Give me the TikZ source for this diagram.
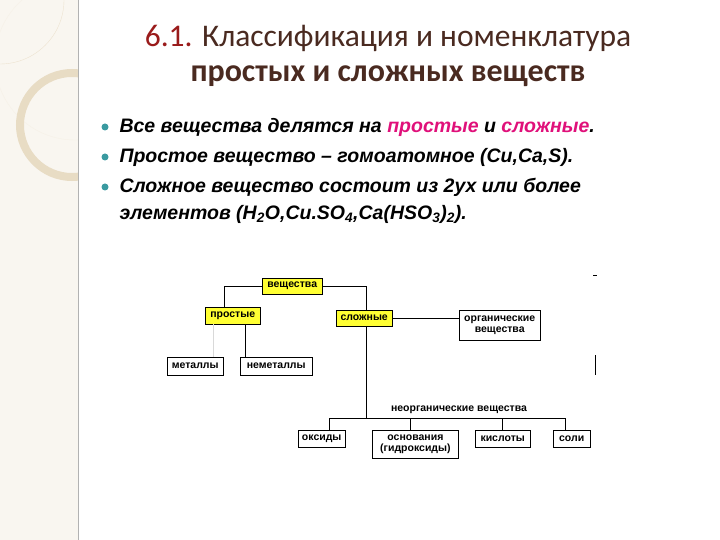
\documentclass[tikz,border=0pt]{standalone}
\usepackage{fontspec}
\setmainfont{Liberation Sans}
\newfontfamily\titlefont{Carlito}
\definecolor{beige}{HTML}{E8DCC4}
\definecolor{dred}{HTML}{9A1B1B}
\definecolor{dbrown}{HTML}{4A2A20}
\definecolor{pinkc}{HTML}{E0107A}
\definecolor{teal}{HTML}{3A9AA0}
\definecolor{yel}{HTML}{FFFF33}
\tikzset{x=1pt,y=-1pt,
 ybox/.style={draw=black,fill=yel,inner sep=1pt,font=\fontsize{10.5}{11.5}\selectfont\bfseries,anchor=north west},
 wbox/.style={draw=black,fill=white,inner sep=1pt,font=\fontsize{10.5}{11.5}\selectfont\bfseries,anchor=north west,align=center},
 conn/.style={black,line width=0.8pt},
 btxt/.style={anchor=west,font=\fontsize{19.5}{27}\selectfont\bfseries\itshape,align=left}}
\begin{document}
\begin{tikzpicture}
\useasboundingbox (0,0) rectangle (720,540);
\fill[white] (0,0) rectangle (720,540);
\fill[beige!25] (0,0) rectangle (78,540);
\begin{scope}
\clip (0,0) rectangle (78,540);
\draw[beige!80,line width=0.4pt] (0,0) circle[radius=64];
\draw[beige!40,line width=0.4pt] (75,60) circle[radius=80];
\draw[beige,line width=8pt] (72,125) circle[radius=52];
\end{scope}
\draw[gray!60,line width=0.6pt] (78,0) -- (78,540);
\node[font=\titlefont\fontsize{31.5}{34}\selectfont] (t1) at (388,38) {\textcolor{dred}{6.1.} \textcolor{dbrown}{Классификация и номенклатура}};
\node[font=\titlefont\fontsize{32}{34}\selectfont\bfseries,text=dbrown] (t2) at (388,76) {простых и сложных веществ};
\foreach \yy in {127,157,187}{\fill[teal] (105,\yy) circle[radius=3.5];}
\node[btxt] (b1) at (116,127) {Все вещества делятся на \textcolor{pinkc}{простые} и \textcolor{pinkc}{сложные}.};
\node[btxt] (b2) at (116,157) {Простое вещество – гомоатомное (Cu,Ca,S).};
\node[btxt,anchor=west] (b3) at (116,201) {Сложное вещество состоит из 2ух или более\\элементов (H\textsubscript{2}O,Cu.SO\textsubscript{4},Ca(HSO\textsubscript{3})\textsubscript{2}).};
% diagram
\node[ybox,minimum width=60,minimum height=16] (v) at (262,278) {вещества};
\node[ybox,minimum width=55,minimum height=17] (p) at (205,307) {простые};
\node[ybox,minimum width=56,minimum height=16] (s) at (336,310) {сложные};
\node[wbox,minimum width=81,minimum height=30] (o) at (459,310) {органические\\вещества};
\node[wbox,minimum width=56,minimum height=18] (m) at (167,357) {металлы};
\node[wbox,minimum width=72,minimum height=18] (n) at (240,357) {неметаллы};
\node[font=\fontsize{10.5}{11.5}\selectfont\bfseries] (ni) at (459,410) {неорганические вещества};
\node[wbox,minimum width=47,minimum height=17] (ok) at (298,430) {оксиды};
\node[wbox,minimum width=86,minimum height=28,line width=0.8pt] (os) at (372,430) {основания\\(гидроксиды)};
\node[wbox,minimum width=55,minimum height=17] (k) at (475,430) {кислоты};
\node[wbox,minimum width=37,minimum height=17] (sl) at (553,430) {соли};
\coordinate (h) at (366,418);
\draw[conn] (v.west) -| (p.north-|224,0);
\draw[conn] (v.east) -| (s.north-|366,0);
\draw[conn] (p.south-|245,0) -- (n.north-|245,0);
\draw[gray!30,line width=0.4pt] (p.south-|213,0) -- (m.north-|213,0);
\draw[conn] (s.east) -- (o.west|-s.east);
\draw[conn] (s.south-|366,0) -- (h);
\draw[conn] (329,418) -- (565,418);
\draw[conn] (ok.north-|329,0) -- (329,418);
\draw[conn] (os.north-|410,0) -- (410,418);
\draw[conn] (k.north-|502,0) -- (502,418);
\draw[conn] (sl.north-|565,0) -- (565,418);
\draw[line width=0.8pt] (595,355) -- (595,375);
\draw[line width=0.6pt] (593,275) -- (597,275);
\end{tikzpicture}
\end{document}
